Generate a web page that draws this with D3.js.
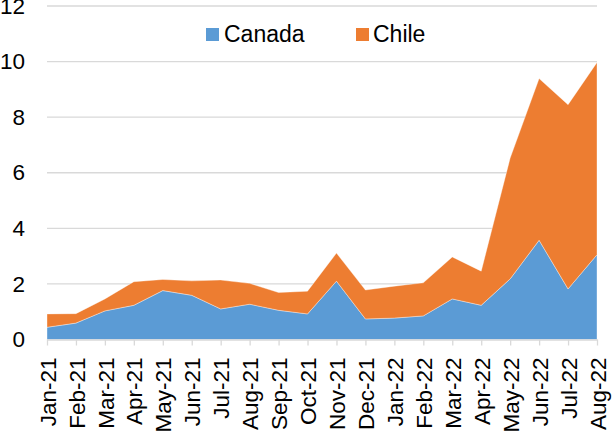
<!DOCTYPE html>
<html>
<head>
<meta charset="utf-8">
<script src="https://cdn.jsdelivr.net/npm/d3@7/dist/d3.min.js"></script>
<style>
  html, body { margin: 0; padding: 0; background: #fff; }
  svg { display: block; font-family: "Liberation Sans", Arial, sans-serif; }
</style>
</head>
<body>
<svg id="chart" width="612" height="433"></svg>
<script>
// Monthly values, stacked: Canada at the bottom, Chile on top
const months = ["Jan-21","Feb-21","Mar-21","Apr-21","May-21","Jun-21","Jul-21","Aug-21","Sep-21","Oct-21",
                "Nov-21","Dec-21","Jan-22","Feb-22","Mar-22","Apr-22","May-22","Jun-22","Jul-22","Aug-22"];
const canada = [0.44,0.59,1.03,1.23,1.76,1.59,1.10,1.27,1.05,0.92,2.10,0.74,0.77,0.85,1.46,1.23,2.18,3.57,1.82,3.05];
const chile  = [0.48,0.34,0.43,0.85,0.40,0.52,1.04,0.75,0.64,0.82,1.01,1.04,1.15,1.19,1.51,1.23,4.35,5.82,6.63,6.92];
const yTicks = [0,2,4,6,8,10,12];

const seriesNames = ["Canada","Chile"];
const colors = { Canada: "#5B9BD5", Chile: "#ED7D31" };

const rows = months.map((m, i) => ({ month: m, Canada: canada[i], Chile: chile[i] }));

const svg = d3.select("#chart");
const plotLeft = 47, plotRight = 597, plotTop = 6, plotBottom = 339.5;

const x = d3.scalePoint().domain(months).range([plotLeft, plotRight]);
const y = d3.scaleLinear().domain([0, 12]).range([plotBottom, plotTop]);

// Horizontal gridlines
svg.append("g")
  .selectAll("line")
  .data(yTicks.filter(d => d > 0))
  .join("line")
  .attr("x1", plotLeft).attr("x2", plotRight)
  .attr("y1", d => y(d)).attr("y2", d => y(d))
  .attr("stroke", "#d9d9d9").attr("stroke-width", 1.3);

// Stacked areas
const stacked = d3.stack().keys(seriesNames)(rows);
const area = d3.area()
  .x(d => x(d.data.month))
  .y0(d => y(d[0]))
  .y1(d => y(d[1]));

svg.append("g")
  .selectAll("path")
  .data(stacked)
  .join("path")
  .attr("d", area)
  .attr("fill", d => colors[d.key])
  .attr("stroke", "#ffffff")
  .attr("stroke-width", 0.6)
  .attr("stroke-opacity", 0.6);

// Y axis labels
const yAxis = d3.axisLeft(y).tickValues(yTicks).tickSize(0).tickPadding(22);
const gy = svg.append("g").attr("transform", `translate(${plotLeft},0)`).call(yAxis);
gy.select(".domain").remove();
gy.selectAll("text")
  .attr("font-size", 22.5)
  .attr("fill", "#000")
  .attr("font-family", "Liberation Sans, Arial, sans-serif");

// X axis with month ticks and rotated labels
const xAxis = d3.axisBottom(x).tickSize(6).tickSizeOuter(0);
const gx = svg.append("g").attr("transform", `translate(0,${plotBottom})`).call(xAxis);
gx.select(".domain").attr("stroke", "#d9d9d9").attr("stroke-width", 1.3);
gx.selectAll(".tick line").attr("stroke", "#d9d9d9").attr("stroke-width", 1.3);
gx.selectAll("text")
  .attr("font-size", 22.5)
  .attr("fill", "#000")
  .attr("font-family", "Liberation Sans, Arial, sans-serif")
  .attr("text-anchor", "end")
  .attr("transform", "rotate(-90)")
  .attr("x", -18)
  .attr("y", 0)
  .attr("dy", "0.36em");

// Legend
const legend = svg.append("g");
const legendItems = [
  { name: "Canada", sx: 206, tx: 224 },
  { name: "Chile", sx: 356, tx: 373 }
];
legendItems.forEach(it => {
  legend.append("rect")
    .attr("x", it.sx).attr("y", 28)
    .attr("width", 13).attr("height", 13)
    .attr("fill", colors[it.name]);
  legend.append("text")
    .attr("x", it.tx).attr("y", 41.5)
    .attr("font-size", 23)
    .attr("fill", "#000")
    .text(it.name);
});
</script>
</body>
</html>
